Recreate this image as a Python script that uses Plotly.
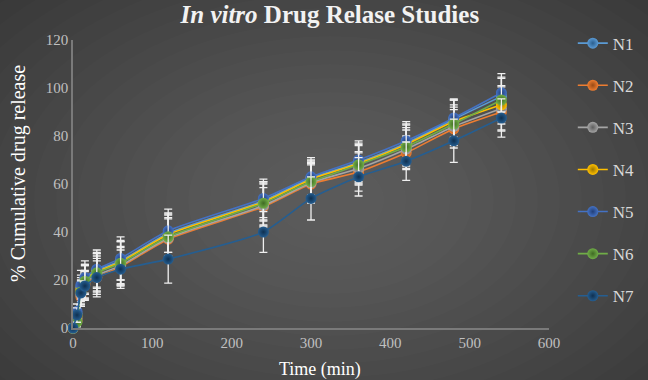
import plotly.graph_objects as go

time = [0, 5, 10, 15, 30, 60, 120, 240, 300, 360, 420, 480, 540]
series_names = ["N1", "N2", "N3", "N4", "N5", "N6", "N7"]
N1 = [0, 6, 17, 20.5, 24, 28, 39.5, 53, 62.5, 69, 77, 87, 96.5]
N2 = [0, 3, 13, 18, 21, 25.5, 37, 50.5, 60, 65, 73, 83, 90]
N3 = [0, 4, 14, 19, 22, 26, 37.5, 51, 60.5, 66.5, 74.5, 84, 91.5]
N4 = [0, 5, 16, 20, 23.5, 27.5, 39, 52.5, 62, 68.5, 76.5, 86, 93]
N5 = [0, 7, 18, 21, 24.5, 29, 40.5, 54, 63, 70, 78, 87.5, 98]
N6 = [0, 2.5, 15, 19.5, 23, 27, 38, 52, 61, 68, 75.5, 85, 95]
N7 = [0, 5.4, 14.6, 17.5, 21, 24.5, 28.7, 40, 54, 63, 69.5, 78, 87.5]
E1 = [0, 2, 5, 6, 7, 8, 8, 8, 7, 8, 8, 8, 8]
E2 = [0, 2, 4, 6, 7, 8, 9, 8, 8, 8, 7, 8, 8]
E3 = [0, 3, 5, 7, 8, 8, 8, 9, 8, 7, 8, 8, 9]
E4 = [0, 2, 5, 6, 8, 9, 9, 8, 8, 8, 8, 9, 8]
E5 = [0, 3, 6, 7, 8, 9, 9, 8, 8, 8, 8, 8, 8]
E6 = [0, 2, 5, 7, 8, 9, 9, 9, 8, 8, 8, 8, 9]
E7 = [0, 3, 5, 6, 8, 8, 10, 8.5, 9, 8, 8, 9, 8]
values = [N1, N2, N3, N4, N5, N6, N7]
errors = [E1, E2, E3, E4, E5, E6, E7]
colors = ["#5B9BD5", "#ED7D31", "#A5A5A5", "#FFC000", "#4472C4", "#70AD47", "#255E91"]
edge = ["#2a5f8f", "#9a4a15", "#5e5e5e", "#a07800", "#223f78", "#3f6a24", "#0f3050"]

FONT = "Liberation Serif, Times New Roman, serif"

fig = go.Figure()
for name, y, e, c, ec in zip(series_names, values, errors, colors, edge):
    fig.add_trace(go.Scatter(
        x=time, y=y, name=name, mode="lines+markers",
        line=dict(color=c, width=1.6, shape="spline", smoothing=0.6),
        marker=dict(size=11, color=c, gradient=dict(type="radial", color=ec),
                    line=dict(width=0)),
        error_y=dict(type="data", array=e, visible=True, color="#f0f0f0",
                     thickness=1.3, width=4),
        legendgroup=name, cliponaxis=False,
    ))

# radial background approximation
shapes = []
L, R, T, B = 73, 549, 40, 328
def px2paper(px, py):
    return (px - L) / (R - L), (B - py) / (B - T)
cx, cy = 330, 200
n = 24
for i in range(n):
    rx = 560 - i * 22
    ry = 360 - i * 14
    x0, y0 = px2paper(cx - rx, cy + ry)
    x1, y1 = px2paper(cx + rx, cy - ry)
    shapes.append(dict(type="circle", xref="paper", yref="paper",
                       x0=x0, y0=y0, x1=x1, y1=y1, layer="below",
                       fillcolor="rgba(255,255,255,0.011)", line=dict(width=0)))

ytx, yty = px2paper(18, 174)
xtx, xty = px2paper(320, 369)
annotations = [
    dict(text="% Cumulative drug release", xref="paper", yref="paper",
         x=ytx, y=yty, xanchor="center", yanchor="middle", textangle=-90,
         showarrow=False, font=dict(family=FONT, size=20, color="#ffffff")),
    dict(text="Time (min)", xref="paper", yref="paper",
         x=xtx, y=xty, xanchor="center", yanchor="middle",
         showarrow=False, font=dict(family=FONT, size=18, color="#ffffff")),
]

fig.update_layout(
    width=648, height=380,
    margin=dict(l=L, r=648 - R, t=T, b=380 - B, autoexpand=False),
    paper_bgcolor="#2e2e2e", plot_bgcolor="rgba(0,0,0,0)",
    shapes=shapes, annotations=annotations,
    font=dict(family=FONT, color="#d9d9d9"),
    title=dict(text="<b><i>In vitro</i> Drug Relase Studies</b>",
               x=0.509, xanchor="center", y=0.963, yanchor="middle",
               font=dict(family=FONT, size=25, color="#f2f2f2")),
    xaxis=dict(range=[0, 600], tickvals=[0, 100, 200, 300, 400, 500, 600],
               showgrid=False, zeroline=False, showline=True, automargin=False,
               linecolor="#7a7a7a", linewidth=1.5, ticks="",
               tickfont=dict(family=FONT, size=15, color="#c0c0c0")),
    yaxis=dict(range=[0, 120], tickvals=[0, 20, 40, 60, 80, 100, 120],
               showgrid=False, zeroline=False, showline=True, automargin=False,
               linecolor="#7a7a7a", linewidth=1.5, ticks="",
               tickfont=dict(family=FONT, size=15, color="#c0c0c0")),
    legend=dict(x=1.05, y=1.05, xanchor="left", yanchor="top",
                bgcolor="rgba(0,0,0,0)", tracegroupgap=17,
                font=dict(family=FONT, size=17, color="#d9d9d9"),
                itemwidth=30, maxheight=360),
    showlegend=True,
)

fig.write_html("out.html", config={"displayModeBar": False},
               post_script="document.body.style.margin='0';document.body.style.background='#2e2e2e';")
